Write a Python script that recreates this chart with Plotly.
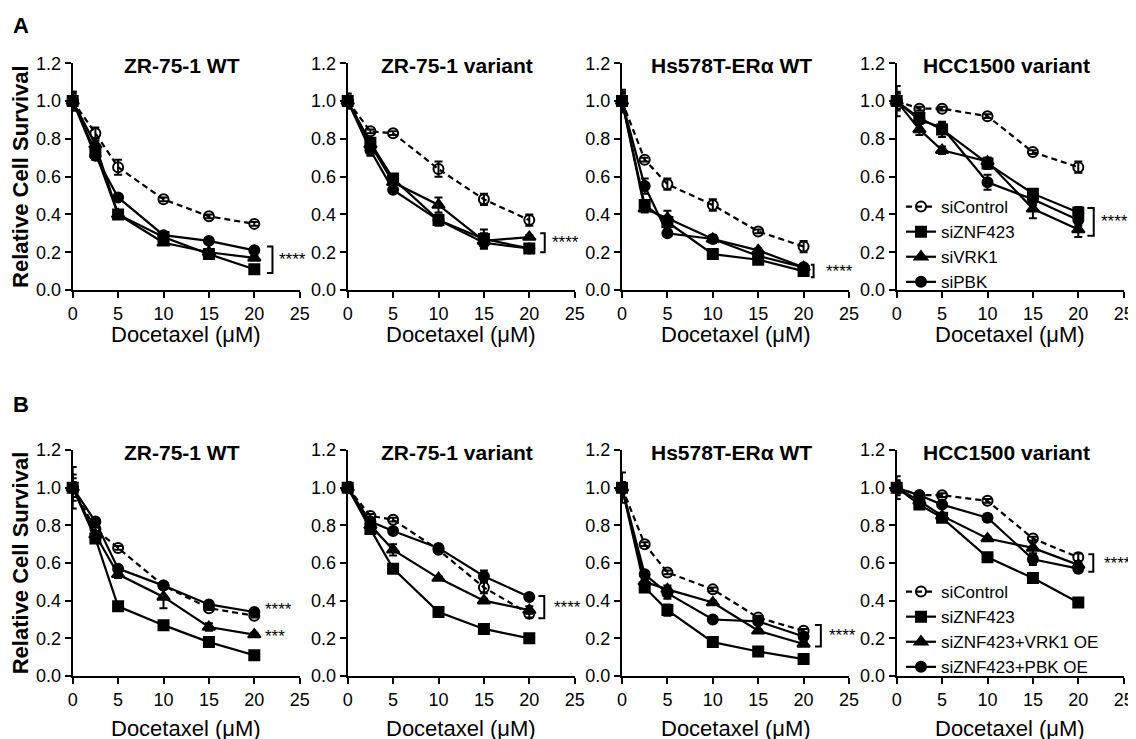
import plotly.graph_objects as go

# ---------------- data ----------------
doses = [0, 2.5, 5, 10, 15, 20]
x_ticks = [0, 5, 10, 15, 20, 25]
y_ticks = [0.0, 0.2, 0.4, 0.6, 0.8, 1.0, 1.2]
cell_lines = ["ZR-75-1 WT", "ZR-75-1 variant", "Hs578T-ERα WT", "HCC1500 variant"]
series_a = ["siControl", "siZNF423", "siVRK1", "siPBK"]
series_b = ["siControl", "siZNF423", "siZNF423+VRK1 OE", "siZNF423+PBK OE"]
x_title = "Docetaxel (μM)"
y_title = "Relative Cell Survival"

# Panel A (siRNA knockdown)
a1_ctrl = [1.00, 0.83, 0.65, 0.48, 0.39, 0.35]
a1_znf = [1.00, 0.73, 0.40, 0.28, 0.19, 0.11]
a1_vrk = [1.00, 0.77, 0.40, 0.25, 0.20, 0.17]
a1_pbk = [1.00, 0.71, 0.49, 0.29, 0.26, 0.21]
a2_ctrl = [1.00, 0.84, 0.83, 0.64, 0.48, 0.37]
a2_znf = [1.00, 0.78, 0.59, 0.37, 0.27, 0.22]
a2_vrk = [1.00, 0.77, 0.57, 0.45, 0.26, 0.28]
a2_pbk = [1.00, 0.74, 0.53, 0.37, 0.25, 0.22]
a3_ctrl = [1.00, 0.69, 0.56, 0.45, 0.31, 0.23]
a3_znf = [1.00, 0.45, 0.36, 0.19, 0.16, 0.10]
a3_vrk = [1.00, 0.43, 0.38, 0.27, 0.21, 0.12]
a3_pbk = [1.00, 0.55, 0.30, 0.27, 0.18, 0.12]
a4_ctrl = [1.00, 0.96, 0.96, 0.92, 0.73, 0.65]
a4_znf = [1.00, 0.91, 0.85, 0.67, 0.51, 0.41]
a4_vrk = [1.00, 0.85, 0.74, 0.68, 0.43, 0.32]
a4_pbk = [1.00, 0.90, 0.86, 0.57, 0.48, 0.37]

a1_ctrl_err = [0.05, 0.03, 0.04, 0.01, 0.01, 0.01]
a1_znf_err = [0.04, 0.02, 0.01, 0.01, 0.01, 0.01]
a1_vrk_err = [0.03, 0.02, 0.01, 0.01, 0.01, 0.01]
a1_pbk_err = [0.05, 0.02, 0.01, 0.01, 0.01, 0.01]
a2_ctrl_err = [0.04, 0.01, 0.01, 0.04, 0.03, 0.03]
a2_znf_err = [0.03, 0.02, 0.02, 0.03, 0.05, 0.02]
a2_vrk_err = [0.02, 0.03, 0.01, 0.04, 0.04, 0.01]
a2_pbk_err = [0.02, 0.03, 0.01, 0.02, 0.02, 0.01]
a3_ctrl_err = [0.05, 0.01, 0.03, 0.03, 0.01, 0.03]
a3_znf_err = [0.04, 0.02, 0.03, 0.01, 0.01, 0.01]
a3_vrk_err = [0.04, 0.02, 0.04, 0.02, 0.01, 0.01]
a3_pbk_err = [0.06, 0.04, 0.01, 0.02, 0.01, 0.01]
a4_ctrl_err = [0.08, 0.01, 0.01, 0.01, 0.01, 0.03]
a4_znf_err = [0.04, 0.03, 0.04, 0.03, 0.02, 0.03]
a4_vrk_err = [0.05, 0.03, 0.02, 0.02, 0.05, 0.04]
a4_pbk_err = [0.04, 0.02, 0.02, 0.04, 0.03, 0.03]

# Panel B (rescue by over-expression)
b1_ctrl = [1.00, 0.78, 0.68, 0.48, 0.36, 0.32]
b1_znf = [1.00, 0.73, 0.37, 0.27, 0.18, 0.11]
b1_vrk = [1.00, 0.75, 0.54, 0.42, 0.26, 0.22]
b1_pbk = [1.00, 0.82, 0.57, 0.48, 0.38, 0.34]
b2_ctrl = [1.00, 0.85, 0.83, 0.67, 0.47, 0.33]
b2_znf = [1.00, 0.78, 0.57, 0.34, 0.25, 0.20]
b2_vrk = [1.00, 0.80, 0.67, 0.52, 0.40, 0.35]
b2_pbk = [1.00, 0.82, 0.77, 0.68, 0.53, 0.42]
b3_ctrl = [1.00, 0.70, 0.55, 0.46, 0.31, 0.24]
b3_znf = [1.00, 0.47, 0.35, 0.18, 0.13, 0.09]
b3_vrk = [1.00, 0.50, 0.46, 0.39, 0.24, 0.17]
b3_pbk = [1.00, 0.54, 0.44, 0.30, 0.29, 0.21]
b4_ctrl = [1.00, 0.96, 0.96, 0.93, 0.73, 0.63]
b4_znf = [1.00, 0.91, 0.84, 0.63, 0.52, 0.39]
b4_vrk = [1.00, 0.93, 0.85, 0.73, 0.68, 0.59]
b4_pbk = [1.00, 0.96, 0.91, 0.84, 0.62, 0.57]

b1_ctrl_err = [0.11, 0.01, 0.01, 0.01, 0.01, 0.01]
b1_znf_err = [0.07, 0.01, 0.01, 0.01, 0.01, 0.01]
b1_vrk_err = [0.05, 0.01, 0.02, 0.06, 0.02, 0.01]
b1_pbk_err = [0.03, 0.01, 0.01, 0.01, 0.01, 0.01]
b2_ctrl_err = [0.03, 0.01, 0.01, 0.01, 0.03, 0.02]
b2_znf_err = [0.02, 0.01, 0.01, 0.01, 0.01, 0.01]
b2_vrk_err = [0.02, 0.01, 0.03, 0.01, 0.01, 0.02]
b2_pbk_err = [0.02, 0.01, 0.01, 0.01, 0.03, 0.01]
b3_ctrl_err = [0.08, 0.01, 0.01, 0.01, 0.01, 0.01]
b3_znf_err = [0.03, 0.01, 0.03, 0.01, 0.02, 0.01]
b3_vrk_err = [0.03, 0.01, 0.02, 0.01, 0.01, 0.01]
b3_pbk_err = [0.02, 0.01, 0.03, 0.01, 0.01, 0.01]
b4_ctrl_err = [0.06, 0.01, 0.01, 0.01, 0.01, 0.02]
b4_znf_err = [0.03, 0.01, 0.02, 0.01, 0.01, 0.01]
b4_vrk_err = [0.03, 0.01, 0.01, 0.01, 0.03, 0.01]
b4_pbk_err = [0.04, 0.01, 0.01, 0.02, 0.03, 0.02]

# significance brackets (lower, upper y of bracket) and labels
sig_a_ranges = [(0.09, 0.23), (0.20, 0.30), (0.067, 0.133), (0.287, 0.434)]
sig_b_ranges = [None, (0.306, 0.425), (0.156, 0.271), (0.554, 0.646)]
sig_a_labels = ["****", "****", "****", "****"]
sig_b_labels = [None, "****", "****", "****"]
b1_sig_labels = ["****", "***"]
b1_sig_y = [0.354, 0.209]

# ---------------- build ----------------
rows = [
    dict(names=series_a,
         vals=[[a1_ctrl, a1_znf, a1_vrk, a1_pbk], [a2_ctrl, a2_znf, a2_vrk, a2_pbk],
               [a3_ctrl, a3_znf, a3_vrk, a3_pbk], [a4_ctrl, a4_znf, a4_vrk, a4_pbk]],
         errs=[[a1_ctrl_err, a1_znf_err, a1_vrk_err, a1_pbk_err],
               [a2_ctrl_err, a2_znf_err, a2_vrk_err, a2_pbk_err],
               [a3_ctrl_err, a3_znf_err, a3_vrk_err, a3_pbk_err],
               [a4_ctrl_err, a4_znf_err, a4_vrk_err, a4_pbk_err]],
         legend="legend"),
    dict(names=series_b,
         vals=[[b1_ctrl, b1_znf, b1_vrk, b1_pbk], [b2_ctrl, b2_znf, b2_vrk, b2_pbk],
               [b3_ctrl, b3_znf, b3_vrk, b3_pbk], [b4_ctrl, b4_znf, b4_vrk, b4_pbk]],
         errs=[[b1_ctrl_err, b1_znf_err, b1_vrk_err, b1_pbk_err],
               [b2_ctrl_err, b2_znf_err, b2_vrk_err, b2_pbk_err],
               [b3_ctrl_err, b3_znf_err, b3_vrk_err, b3_pbk_err],
               [b4_ctrl_err, b4_znf_err, b4_vrk_err, b4_pbk_err]],
         legend="legend2"),
]

W, H = 1136, 739
OFF = 8  # page body margin offset in the browser
FONT = "Liberation Sans, Arial, Helvetica, sans-serif"
symbols = ["circle-open", "square", "triangle-up", "circle"]
msizes = [10, 10, 11, 10]


def px_x(p):
    return (p - OFF) / W


def px_y(p):
    return 1 - (p - OFF) / H


col_left_px = [72.7, 347.7, 622.0, 896.7]
plot_w_px = 227.0
row_y_px = [(63.3, 290.0), (450.0, 676.0)]  # (top, bottom)
xtitle_off = [45, 52]

fig = go.Figure()
layout = dict(
    width=W, height=H, autosize=False,
    margin=dict(l=0, r=0, t=0, b=0, pad=0, autoexpand=False),
    paper_bgcolor="white", plot_bgcolor="white",
    font=dict(family=FONT, color="black", size=18),
    annotations=[], shapes=[],
)

bracket_x = [[(22.0, 21.4), (21.7, 21.2), (21.1, 20.8), (21.7, 21.0)],
             [None, (21.65, 21.0), (21.9, 21.25), (21.65, 21.1)]]
star_x = [[22.5, 22.3, 22.2, 22.3], [21.0, 22.5, 22.6, 22.6]]

for r, row in enumerate(rows):
    top_px, bot_px = row_y_px[r]
    for c in range(4):
        k = r * 4 + c + 1
        xa = "x" if k == 1 else f"x{k}"
        ya = "y" if k == 1 else f"y{k}"
        xkey = "xaxis" if k == 1 else f"xaxis{k}"
        ykey = "yaxis" if k == 1 else f"yaxis{k}"
        x0 = px_x(col_left_px[c])
        x1 = px_x(col_left_px[c] + plot_w_px)
        y0 = px_y(bot_px)
        y1 = px_y(top_px)
        axis_common = dict(showline=True, linecolor="black", linewidth=2,
                           ticks="outside", ticklen=6, tickwidth=2, tickcolor="black",
                           showgrid=False, zeroline=False, fixedrange=True,
                           automargin=False,
                           tickfont=dict(size=18, family=FONT, color="black"))
        layout[xkey] = dict(axis_common, domain=[x0, x1], anchor=ya, range=[0, 25],
                            tickmode="array", tickvals=x_ticks)
        layout[ykey] = dict(axis_common, domain=[y0, y1], anchor=xa, range=[0, 1.2],
                            tickmode="array", tickvals=y_ticks, tickformat=".1f")
        if c == 0:
            layout[ykey]["title"] = dict(text=y_title,
                                         font=dict(size=22, family=FONT, color="black",
                                                   weight="bold"),
                                         standoff=8)
        # x-axis title
        layout["annotations"].append(dict(
            text=x_title, xref="paper", yref="paper",
            x=px_x(col_left_px[c] + plot_w_px / 2), y=px_y(bot_px + xtitle_off[r]),
            xanchor="center", yanchor="middle", showarrow=False,
            font=dict(size=22, family=FONT, color="black")))
        # traces
        for s in range(4):
            is_ctrl = s == 0
            fig.add_trace(go.Scatter(
                x=doses, y=row["vals"][c][s], name=row["names"][s],
                mode="lines+markers", xaxis=xa, yaxis=ya, cliponaxis=False,
                line=dict(color="black", width=2.2,
                          dash="6px,4px" if is_ctrl else "solid"),
                marker=dict(symbol=symbols[s], size=msizes[s], color="black",
                            line=dict(color="black", width=2)),
                error_y=dict(type="data", array=row["errs"][c][s], visible=True,
                             color="black", thickness=2, width=4),
                showlegend=(c == 3), legend=row["legend"],
            ))
        # title of subplot
        layout["annotations"].append(dict(
            text=cell_lines[c], xref="paper", yref="paper",
            x=px_x(col_left_px[c] + plot_w_px / 2 - 4), y=px_y(top_px + 2),
            xanchor="center", yanchor="middle", showarrow=False,
            font=dict(size=21, family=FONT, color="black", weight="bold")))
        # significance
        rng = (sig_a_ranges if r == 0 else sig_b_ranges)[c]
        lab = (sig_a_labels if r == 0 else sig_b_labels)[c]
        if rng is not None:
            bx, tx = bracket_x[r][c]
            lo, hi = rng
            layout["shapes"].append(dict(
                type="path", xref=xa, yref=ya,
                path=f"M {tx},{hi} L {bx},{hi} L {bx},{lo} L {tx},{lo}",
                line=dict(color="black", width=2)))
            layout["annotations"].append(dict(
                text=lab, xref=xa, yref=ya, x=star_x[r][c], y=(lo + hi) / 2,
                xanchor="left", yanchor="middle", showarrow=False,
                font=dict(size=17, family=FONT, color="black")))
        elif r == 1 and c == 0:
            for lbl, yy in zip(b1_sig_labels, b1_sig_y):
                layout["annotations"].append(dict(
                    text=lbl, xref=xa, yref=ya, x=star_x[r][c], y=yy,
                    xanchor="left", yanchor="middle", showarrow=False,
                    font=dict(size=17, family=FONT, color="black")))

# panel letters
for letter, ypx in [("A", 26), ("B", 404)]:
    layout["annotations"].append(dict(
        text=letter, xref="paper", yref="paper", x=px_x(11), y=px_y(ypx),
        xanchor="left", yanchor="middle", showarrow=False,
        font=dict(size=22, family=FONT, color="black", weight="bold")))

legend_style = dict(bgcolor="rgba(0,0,0,0)", borderwidth=0,
                    font=dict(size=17, family=FONT, color="black"),
                    xanchor="left", yanchor="top", x=px_x(901), itemwidth=30,
                    tracegroupgap=0)
layout["legend"] = dict(legend_style, y=px_y(189))
layout["legend2"] = dict(legend_style, y=px_y(574))

fig.update_layout(**layout)
fig.write_html("out.html")
